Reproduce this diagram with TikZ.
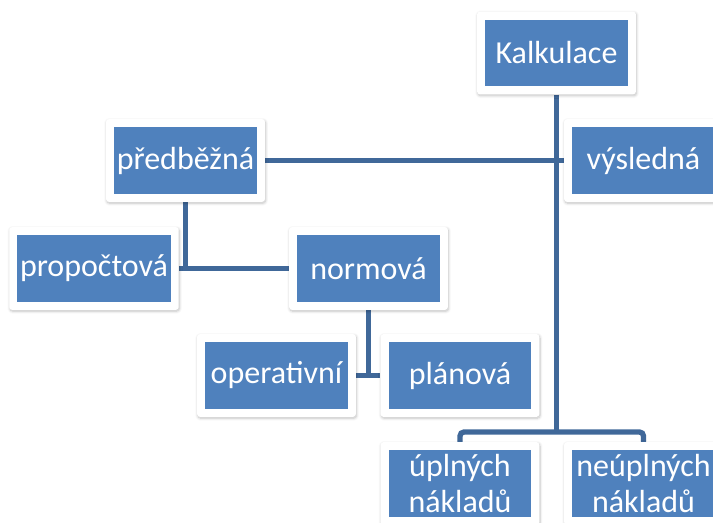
\documentclass[tikz,border=0pt]{standalone}
\usepackage{fontspec}
\setmainfont{Carlito}
\usetikzlibrary{shadows.blur,backgrounds}
\definecolor{boxblue}{RGB}{79,129,189}
\definecolor{lineblue}{RGB}{64,104,153}

\begin{document}
\begin{tikzpicture}[x=0.75pt,y=-0.75pt]
   \useasboundingbox (0,0) rectangle (713,523);
   \clip (0,0) rectangle (713,523);
   \fontsize{24}{26.5}\selectfont
   \tikzstyle{card}=[rectangle, rounded corners=2pt, fill=white, text=white,
      minimum width=119pt, minimum height=62pt, align=center,
      blur shadow={shadow xshift=0.5pt, shadow yshift=-1pt, shadow opacity=25,
         shadow blur radius=2pt, shadow blur steps=6},
      path picture={\fill[boxblue, sharp corners]
         ([shift={(6pt,6pt)}]path picture bounding box.south west) rectangle
         ([shift={(-6pt,-6pt)}]path picture bounding box.north east);}]
   \tikzstyle{conn}=[draw=lineblue, line width=4pt]
   \foreach \name/\x/\y/\word in {kalk/556.5/53/{Kalkulace},
         vysledna/643.5/160.5/{výsledná},
         predbezna/185.5/160.5/{předběžná},
         propoctova/94/268.5/{propočtová},
         normova/368.5/268.5/{normová},
         operativni/276.5/375.5/{operativní},
         planova/460/375.5/{plánová},
         uplnych/460/483.5/{úplných\\nákladů},
         neuplnych/643.5/483.5/{neúplných\\nákladů}} {
       \node[card] (\name) at (\x,\y) {\word};
   }
   \begin{scope}[on background layer]
    \coordinate (split) at (556.5,432);
    \path[conn] (kalk.south) -- (split);
    \path[conn, rounded corners=3pt] (uplnych.north) |- (split) -| (neuplnych.north);
    \path[conn] (predbezna.east) -- (vysledna.west);
    \path[conn] (predbezna.south) -- (predbezna.south |- propoctova.east);
    \path[conn] (propoctova.east) -- (normova.west);
    \path[conn] (normova.south) -- (normova.south |- operativni.east);
    \path[conn] (operativni.east) -- (planova.west);
   \end{scope}
\end{tikzpicture}
\end{document}
